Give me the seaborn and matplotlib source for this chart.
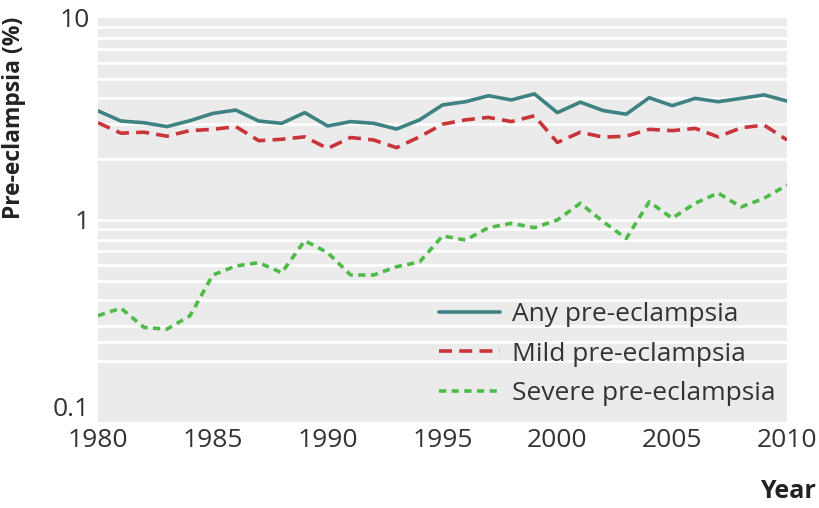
import matplotlib
matplotlib.use("Agg")
import matplotlib.pyplot as plt
import seaborn as sns
import pandas as pd
import numpy as np

# Data (percent of pregnancies)
years = list(range(1980, 2011))
any_pe = [3.47, 3.09, 3.03, 2.90, 3.10, 3.37, 3.50, 3.09, 3.01, 3.40, 2.92,
          3.07, 3.01, 2.82, 3.13, 3.71, 3.85, 4.12, 3.93, 4.21, 3.40,
          3.83, 3.48, 3.34, 4.03, 3.68, 4.00, 3.85, 4.00, 4.16, 3.88]
mild_pe = [3.03, 2.69, 2.72, 2.60, 2.77, 2.81, 2.90, 2.47, 2.51, 2.58, 2.26,
           2.56, 2.49, 2.28, 2.58, 2.98, 3.13, 3.22, 3.07, 3.28, 2.42,
           2.72, 2.57, 2.60, 2.81, 2.77, 2.84, 2.58, 2.86, 2.95, 2.49]
severe_pe = [0.336, 0.366, 0.294, 0.288, 0.335, 0.534, 0.592, 0.615, 0.548, 0.790, 0.689,
             0.534, 0.534, 0.587, 0.62, 0.833, 0.796, 0.916, 0.963, 0.916, 1.0,
             1.21, 0.98, 0.81, 1.23, 1.02, 1.21, 1.36, 1.16, 1.28, 1.49]
series_names = ["Any pre-eclampsia", "Mild pre-eclampsia", "Severe pre-eclampsia"]
x_ticks = [1980, 1985, 1990, 1995, 2000, 2005, 2010]
y_ticks = [0.1, 1, 10]
y_tick_labels = ["0.1", "1", "10"]
grid_vals = [0.2, 0.25, 0.3, 0.4, 0.5, 0.6, 0.7, 0.8, 0.9, 1,
             2, 3, 4, 5, 6, 7, 8, 9]

df = pd.DataFrame({"Year": years * 3,
                   "Value": any_pe + mild_pe + severe_pe,
                   "Series": [s for s in series_names for _ in years]})

sns.set_style("white")
plt.rcParams["font.family"] = ["Open Sans", "DejaVu Sans"]

fig = plt.figure(figsize=(8.2, 5.08), dpi=100)
ax = fig.add_axes([0.1195, 0.1693, 0.8403, 0.7953])
ax.set_facecolor("#EBEBEB")

colors = ["#3F8284", "#C9343A", "#4DBB48"]
styles = ["-", (0, (3.6, 2.0)), (0, (2.0, 1.5))]
for name, c, ls in zip(series_names, colors, styles):
    sub = df[df["Series"] == name]
    sns.lineplot(data=sub, x="Year", y="Value", ax=ax, color=c, lw=2.6,
                 linestyle=ls, label=name, zorder=3)

ax.set_yscale("log")
ax.set_ylim(0.1, 10)
ax.set_xlim(1980, 2010)
for g in grid_vals:
    ax.axhline(g, color="white", lw=2.0, zorder=1)

ax.set_yticks(y_ticks)
ax.set_yticklabels(y_tick_labels)
ax.yaxis.set_minor_locator(matplotlib.ticker.NullLocator())
ax.set_xticks(x_ticks)
ax.tick_params(axis="x", direction="in", length=6, width=2, color="white",
               labelsize=19, labelcolor="#333333", pad=4)
ax.tick_params(axis="y", length=0, labelsize=19, labelcolor="#333333", pad=6)
# the 0.1 label sits just above the axis bottom in the original
ax.get_yticklabels()[0].set_verticalalignment("bottom")
for s in ax.spines.values():
    s.set_visible(False)

ax.set_xlabel("")
ax.set_ylabel("Pre-eclampsia (%)", fontsize=16.5, fontweight="bold",
              color="#222222")
ax.yaxis.set_label_coords(-0.104, 0.752)
fig.text(0.995, 0.02, "Year", fontsize=18, fontweight="bold",
         color="#222222", ha="right", va="baseline")

leg = ax.legend(loc="upper left", bbox_to_anchor=(0.495, 0.297), frameon=False,
                fontsize=19, handlelength=2.3, handletextpad=0.45,
                labelspacing=0.55, borderpad=0, borderaxespad=0)
for t in leg.get_texts():
    t.set_color("#333333")

fig.savefig("out.png", dpi=100)
